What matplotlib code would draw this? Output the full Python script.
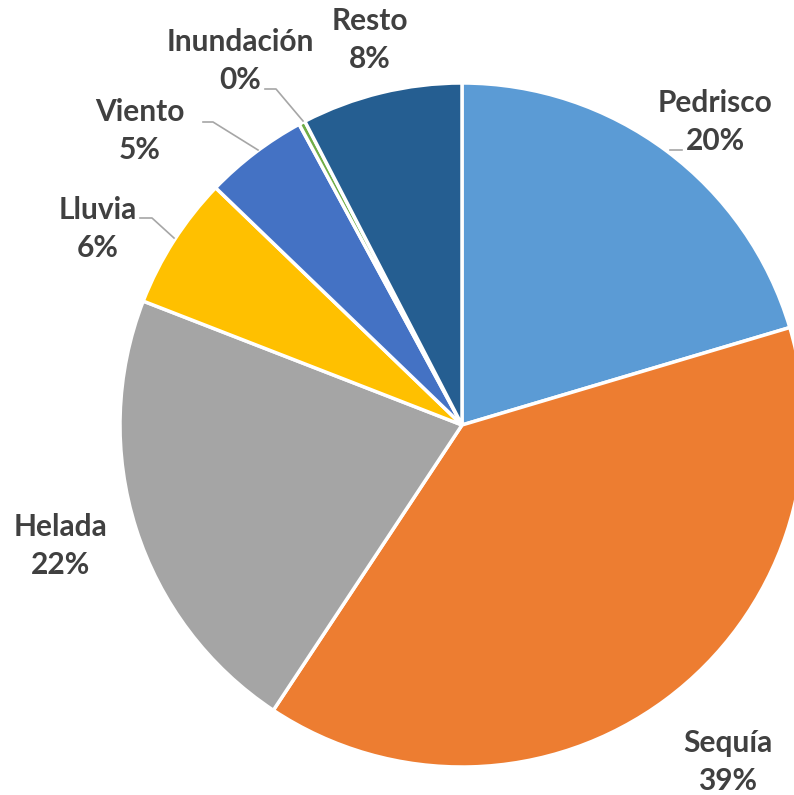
import matplotlib
matplotlib.use('Agg')
from matplotlib import pyplot as plt

# datos
categorias = ['Pedrisco', 'Sequía', 'Helada', 'Lluvia', 'Viento', 'Inundación', 'Resto']
valores = [20.4, 38.9, 21.6, 6.3, 4.9, 0.3, 7.6]
etiquetas_pct = ['20%', '39%', '22%', '6%', '5%', '0%', '8%']
colores = ['#5B9BD5', '#ED7D31', '#A5A5A5', '#FFC000', '#4472C4', '#70AD47', '#255E91']

# posiciones de las etiquetas (pixeles, origen arriba a la izquierda)
pos_etiquetas = [(715, 122), (728, 762), (60, 546), (98, 229), (140, 131), (240, 61), (370, 40)]
# lineas guia
guias = {
    'Pedrisco': [(682, 150), (670, 150)],
    'Lluvia': [(140, 218), (152, 218), (174, 238)],
    'Viento': [(203, 122), (213, 122), (258, 150)],
    'Inundación': [(265, 89), (276, 89), (303, 121)],
}

W, H = 794, 795
fig = plt.figure(figsize=(W / 100, H / 100), dpi=100)
ax = fig.add_axes([0, 0, 1, 1])

centro = (462, H - 425)
radio = 342

ax.pie(valores, colors=colores, startangle=90, counterclock=False,
       center=centro, radius=radio, frame=True,
       wedgeprops=dict(edgecolor='white', linewidth=2.5))
ax.set_xlim(0, W)
ax.set_ylim(0, H)
ax.axis('off')

for nombre, pct, (x, y) in zip(categorias, etiquetas_pct, pos_etiquetas):
    ax.text(x, H - y, f'{nombre}\n{pct}', ha='center', va='center',
            fontsize=21.5, fontweight='bold', color='#404040',
            family=['Lato', 'DejaVu Sans'], linespacing=1.45)

for nombre, pts in guias.items():
    xs = [p[0] for p in pts]
    ys = [H - p[1] for p in pts]
    ax.plot(xs, ys, color='#A6A6A6', linewidth=1.2)

plt.savefig('out.png', dpi=100)
plt.close()
